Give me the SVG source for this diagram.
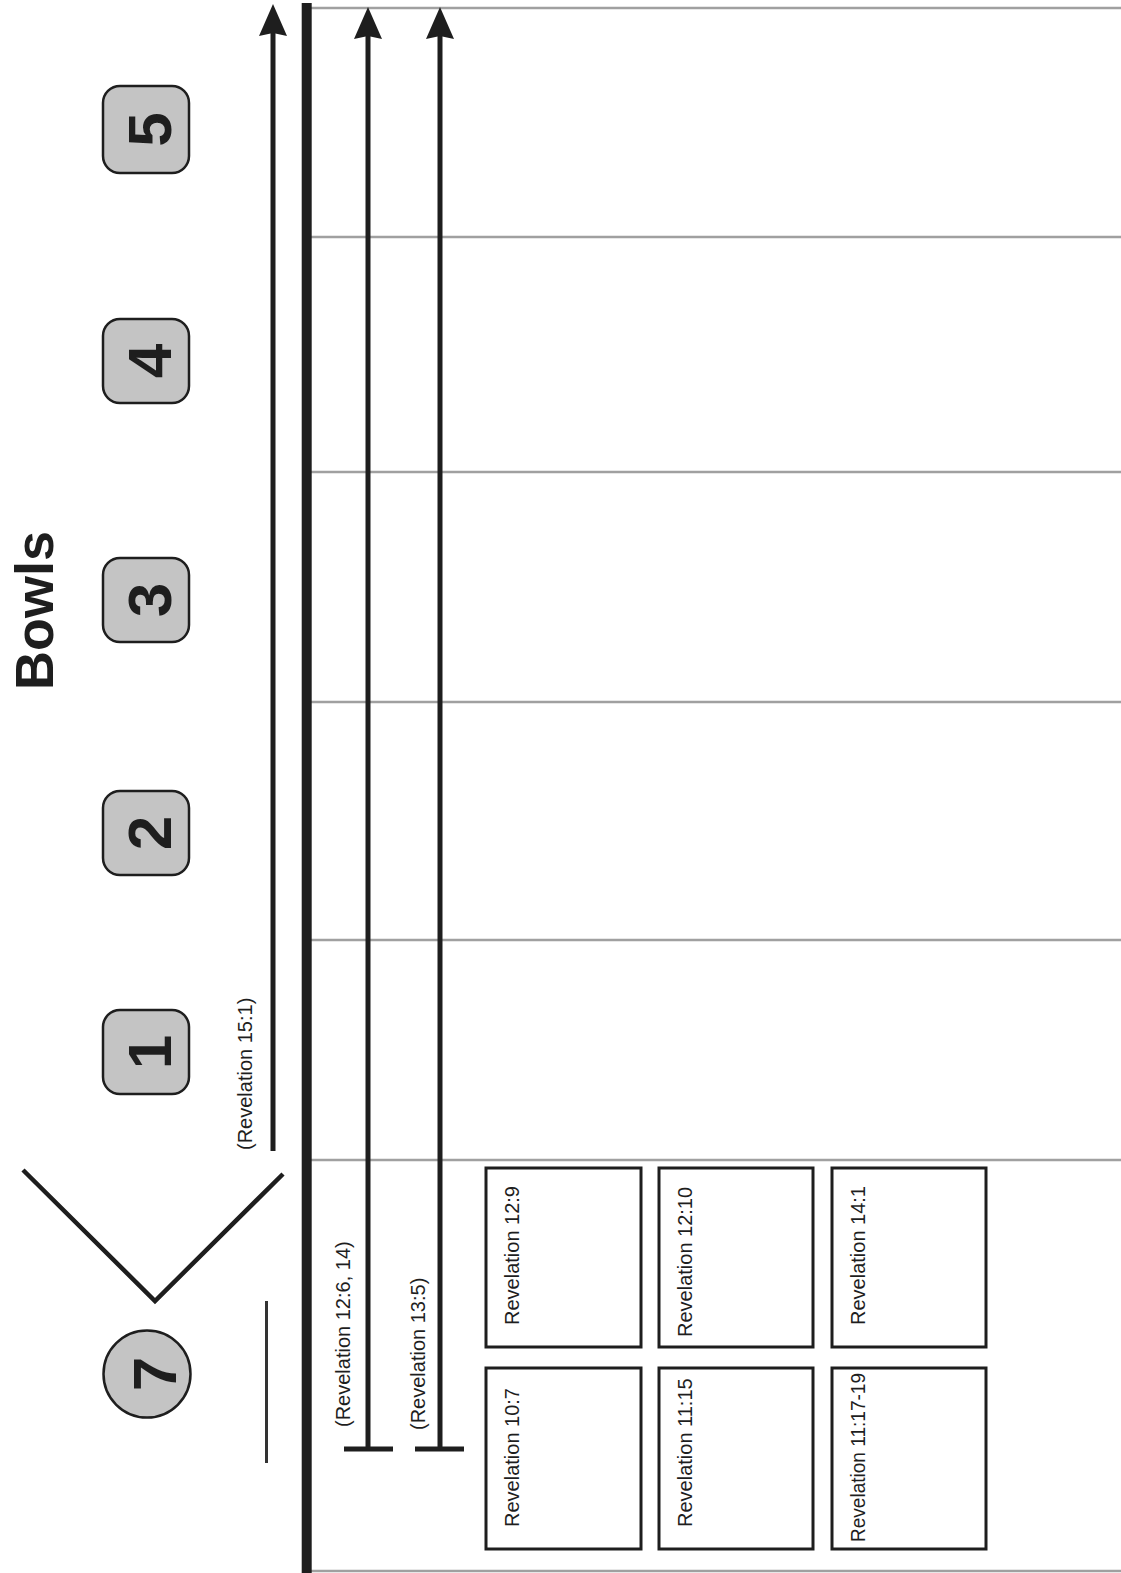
<svg xmlns="http://www.w3.org/2000/svg" width="1121" height="1573" viewBox="0 0 1121 1573">
<style>
.bg{fill:#ffffff}
.grid{stroke:#a0a0a0;stroke-width:2.5;fill:none}
.spine{stroke:#1e1e1e;stroke-width:10;fill:none}
.conn{stroke:#1e1e1e;stroke-width:5;fill:none}
.vee{stroke:#1e1e1e;stroke-width:4.5;fill:none}
.thin{stroke:#333;stroke-width:3;fill:none}
.num{fill:#c4c4c4;stroke:#1e1e1e;stroke-width:2.5}
.box{fill:#ffffff;stroke:#1e1e1e;stroke-width:3}
.digit{font-family:"Liberation Sans",Arial,sans-serif;font-weight:bold;font-size:62px;fill:#1e1e1e;text-anchor:middle}
.title{font-family:"Liberation Sans",Arial,sans-serif;font-weight:bold;font-size:54px;fill:#1e1e1e;text-anchor:middle}
.lbl{font-family:"Liberation Sans",Arial,sans-serif;font-size:20px;fill:#1e1e1e}
</style>
<defs>
<marker id="ah" viewBox="0 0 32 28" markerWidth="32" markerHeight="28" refX="3" refY="14" orient="auto" markerUnits="userSpaceOnUse">
<path d="M0,0 L32,14 L0,28 L3,14 Z" fill="#1e1e1e"/>
</marker>
</defs>
<rect class="bg" x="0" y="0" width="1121" height="1573"/>

<g id="grid">
<line class="grid" x1="311" y1="8" x2="1121" y2="8"/>
<line class="grid" x1="311" y1="237" x2="1121" y2="237"/>
<line class="grid" x1="311" y1="472" x2="1121" y2="472"/>
<line class="grid" x1="311" y1="702" x2="1121" y2="702"/>
<line class="grid" x1="311" y1="940" x2="1121" y2="940"/>
<line class="grid" x1="311" y1="1160" x2="1121" y2="1160"/>
<line class="grid" x1="311" y1="1571" x2="1121" y2="1571"/>
<line class="spine" x1="306.7" y1="3" x2="306.7" y2="1573"/>
</g>

<g id="title">
<text class="title" transform="translate(53,610.5) rotate(-90)">Bowls</text>
</g>

<g id="bowl-5">
<rect class="num" x="103" y="86" width="86" height="87" rx="17"/>
<text class="digit" transform="translate(171,129.5) rotate(-90)">5</text>
</g>
<g id="bowl-4">
<rect class="num" x="103" y="319" width="86" height="84" rx="17"/>
<text class="digit" transform="translate(171,361) rotate(-90)">4</text>
</g>
<g id="bowl-3">
<rect class="num" x="103" y="558" width="86" height="84" rx="17"/>
<text class="digit" transform="translate(171,600) rotate(-90)">3</text>
</g>
<g id="bowl-2">
<rect class="num" x="103" y="791" width="86" height="84" rx="17"/>
<text class="digit" transform="translate(171,833) rotate(-90)">2</text>
</g>
<g id="bowl-1">
<rect class="num" x="103" y="1010" width="86" height="84" rx="17"/>
<text class="digit" transform="translate(171,1052) rotate(-90)">1</text>
</g>
<g id="bowl-7">
<circle class="num" cx="147" cy="1374" r="43.5"/>
<text class="digit" transform="translate(176,1374) rotate(-90)">7</text>
</g>

<g id="vee">
<polyline class="vee" points="23,1170 155,1301 283,1174"/>
<line class="thin" x1="266.5" y1="1301" x2="266.5" y2="1463"/>
</g>

<g id="connectors">
<line class="conn" x1="273" y1="1151" x2="273" y2="33" marker-end="url(#ah)"/>
<line class="conn" x1="368" y1="1449" x2="368" y2="36" marker-end="url(#ah)"/>
<line class="conn" x1="440" y1="1449" x2="440" y2="36" marker-end="url(#ah)"/>
<line class="conn" x1="344" y1="1449" x2="393" y2="1449"/>
<line class="conn" x1="415" y1="1449" x2="464" y2="1449"/>
</g>

<g id="labels">
<text class="lbl" transform="translate(252,1150) rotate(-90)">(Revelation 15:1)</text>
<text class="lbl" transform="translate(350,1427) rotate(-90)">(Revelation 12:6, 14)</text>
<text class="lbl" transform="translate(425,1430) rotate(-90)">(Revelation 13:5)</text>
</g>

<g id="box-12-9">
<rect class="box" x="486" y="1168" width="155" height="179"/>
<text class="lbl" transform="translate(519,1325) rotate(-90)">Revelation 12:9</text>
</g>
<g id="box-12-10">
<rect class="box" x="659" y="1168" width="154" height="179"/>
<text class="lbl" transform="translate(692,1337) rotate(-90)">Revelation 12:10</text>
</g>
<g id="box-14-1">
<rect class="box" x="832" y="1168" width="154" height="179"/>
<text class="lbl" transform="translate(865,1325) rotate(-90)">Revelation 14:1</text>
</g>
<g id="box-10-7">
<rect class="box" x="486" y="1368" width="155" height="181"/>
<text class="lbl" transform="translate(519,1527) rotate(-90)">Revelation 10:7</text>
</g>
<g id="box-11-15">
<rect class="box" x="659" y="1368" width="154" height="181"/>
<text class="lbl" transform="translate(692,1527) rotate(-90)">Revelation 11:15</text>
</g>
<g id="box-11-17-19">
<rect class="box" x="832" y="1368" width="154" height="181"/>
<text class="lbl" transform="translate(865,1542) rotate(-90)" textLength="169" lengthAdjust="spacingAndGlyphs">Revelation 11:17-19</text>
</g>
</svg>
